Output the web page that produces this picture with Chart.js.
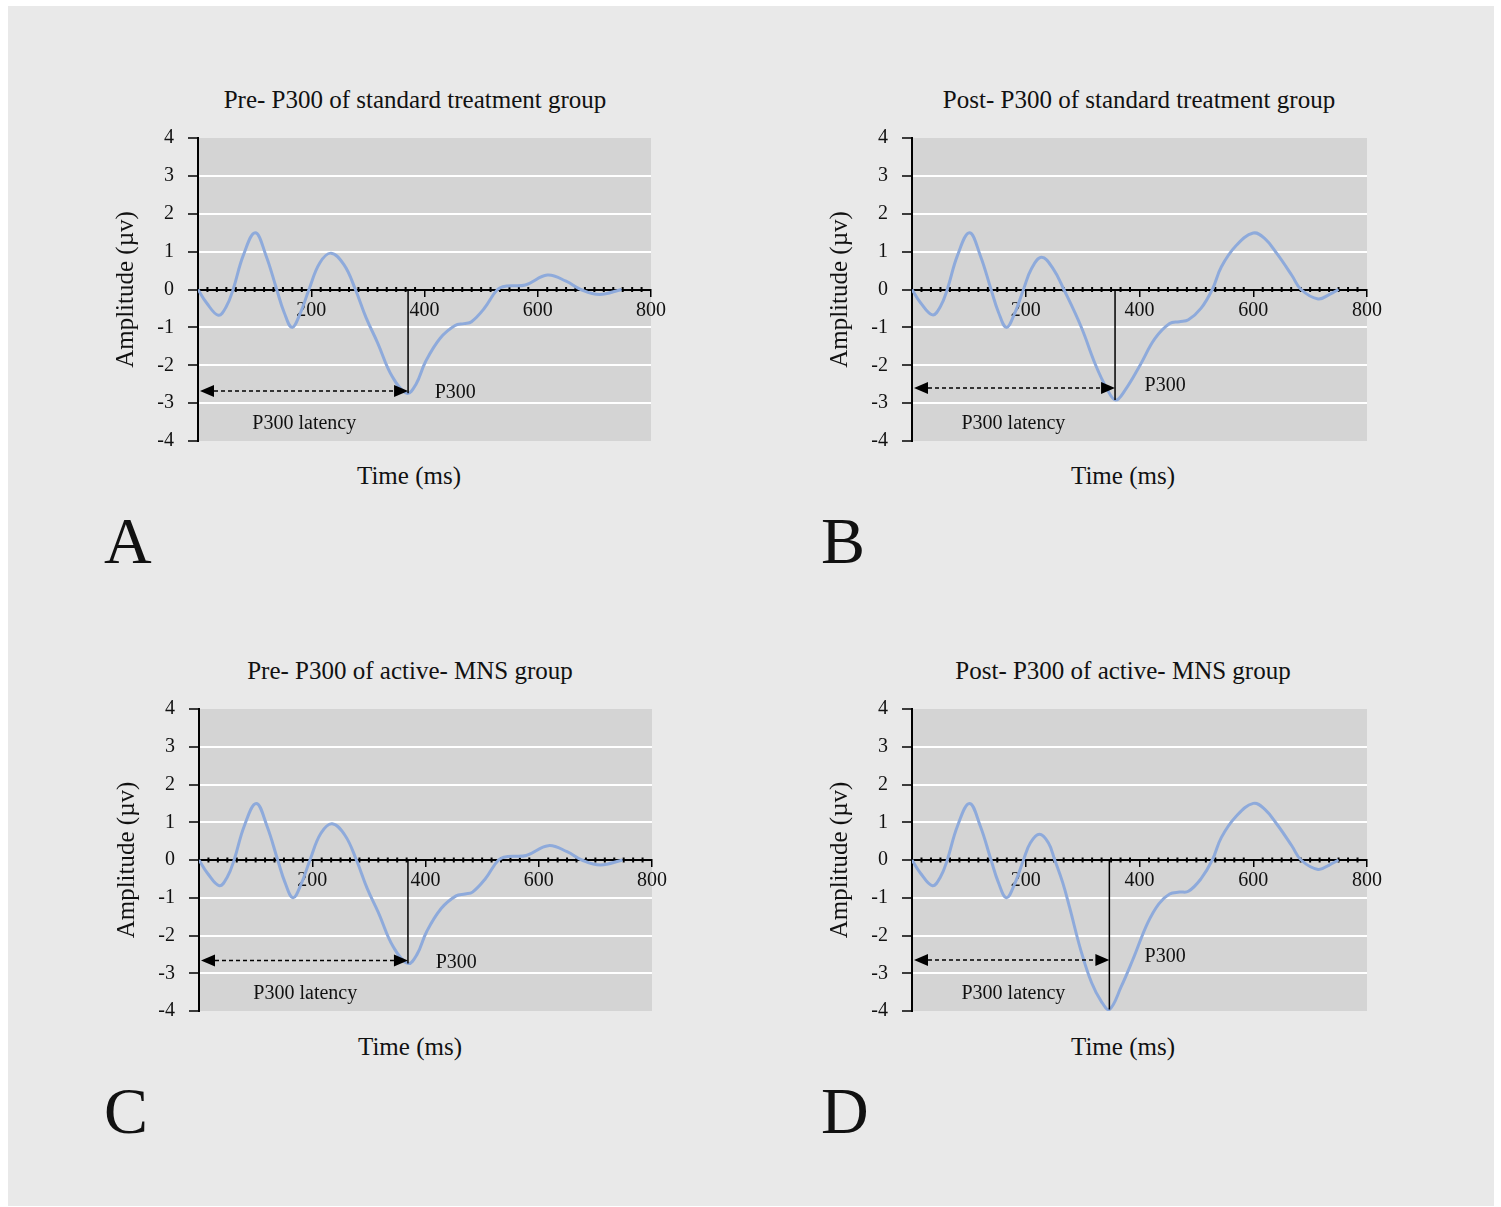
<!DOCTYPE html>
<html>
<head>
<meta charset="utf-8">
<script src="https://cdn.jsdelivr.net/npm/chart.js@4"></script>
<style>
  html, body { margin: 0; padding: 0; background: #fff; }
  body { width: 1501px; height: 1207px; position: relative; overflow: hidden;
         font-family: 'Liberation Serif', 'Times New Roman', serif; color: #111; }
  #frame { position: absolute; left: 8px; top: 6px; width: 1486px; height: 1200px; background: #e9e9e9; }
  canvas { position: absolute; }
  .title, .xtitle { position: absolute; width: 500px; text-align: center; font-size: 25px; line-height: 30px; white-space: nowrap; }
  .letter { position: absolute; font-size: 66px; line-height: 66px; }
</style>
</head>
<body>
<div id="frame"></div>

<div class="title" style="left:165px;top:85px">Pre- P300 of standard treatment group</div>
<div class="title" style="left:889px;top:85px">Post- P300 of standard treatment group</div>
<div class="title" style="left:160px;top:656px">Pre- P300 of active- MNS group</div>
<div class="title" style="left:873px;top:656px">Post- P300 of active- MNS group</div>

<div class="xtitle" style="left:159px;top:461px">Time (ms)</div>
<div class="xtitle" style="left:873px;top:461px">Time (ms)</div>
<div class="xtitle" style="left:160px;top:1032px">Time (ms)</div>
<div class="xtitle" style="left:873px;top:1032px">Time (ms)</div>

<div class="letter" style="left:104px;top:508px">A</div>
<div class="letter" style="left:821px;top:508px">B</div>
<div class="letter" style="left:104px;top:1078px">C</div>
<div class="letter" style="left:821px;top:1078px">D</div>

<canvas id="chartA" width="570" height="355" style="left:100px;top:112px"></canvas>
<canvas id="chartB" width="572" height="355" style="left:814px;top:112px"></canvas>
<canvas id="chartC" width="570" height="354" style="left:101px;top:683px"></canvas>
<canvas id="chartD" width="572" height="354" style="left:814px;top:683px"></canvas>

<script>
// A: pre, standard treatment group
const timeA = [0, 15, 36, 50, 62, 80, 101, 120, 139, 152, 166, 180, 196, 215, 235, 258, 278, 297, 317, 343, 369, 385, 402, 428, 454, 470, 483, 506, 529, 545, 578, 617, 650, 676, 709, 748];
const ampA  = [0, -0.35, -0.68, -0.45, 0, 0.9, 1.5, 0.9, 0, -0.6, -1.0, -0.65, 0, 0.7, 0.96, 0.65, 0, -0.75, -1.4, -2.3, -2.74, -2.5, -1.9, -1.28, -0.95, -0.9, -0.85, -0.49, 0, 0.09, 0.12, 0.38, 0.22, 0, -0.13, 0];

// B: post, standard treatment group
const timeB = [0, 15, 36, 50, 62, 80, 101, 120, 139, 152, 166, 180, 196, 210, 228, 248, 267, 297, 323, 342, 358, 375, 401, 427, 453, 470, 486, 508, 528, 544, 570, 600, 620, 642, 668, 684, 714, 735, 750];
const ampB  = [0, -0.35, -0.67, -0.45, 0, 0.9, 1.5, 0.9, 0, -0.6, -1.0, -0.65, 0, 0.55, 0.85, 0.55, 0, -0.97, -2.0, -2.6, -2.92, -2.65, -2.0, -1.3, -0.9, -0.85, -0.8, -0.5, 0, 0.6, 1.16, 1.49, 1.35, 0.94, 0.37, 0, -0.25, -0.12, 0];

// C: pre, active-MNS group
const timeC = [0, 15, 36, 50, 62, 80, 101, 120, 139, 152, 166, 180, 196, 215, 235, 258, 278, 297, 317, 343, 369, 385, 402, 428, 454, 470, 483, 506, 529, 545, 578, 617, 650, 676, 709, 748];
const ampC  = [0, -0.35, -0.68, -0.45, 0, 0.9, 1.5, 0.9, 0, -0.6, -1.0, -0.65, 0, 0.7, 0.96, 0.65, 0, -0.75, -1.4, -2.3, -2.74, -2.5, -1.9, -1.28, -0.95, -0.9, -0.85, -0.49, 0, 0.09, 0.12, 0.38, 0.22, 0, -0.13, 0];

// D: post, active-MNS group
const timeD = [0, 15, 36, 50, 62, 80, 101, 120, 139, 152, 166, 180, 196, 208, 224, 240, 251, 265, 277, 297, 316, 333, 347, 368, 388, 414, 434, 453, 470, 486, 508, 528, 544, 570, 600, 620, 642, 668, 684, 714, 735, 750];
const ampD  = [0, -0.35, -0.68, -0.45, 0, 0.9, 1.5, 0.9, 0, -0.6, -1.0, -0.65, 0, 0.45, 0.68, 0.45, 0, -0.6, -1.25, -2.4, -3.26, -3.75, -3.96, -3.35, -2.65, -1.68, -1.16, -0.9, -0.85, -0.83, -0.5, 0, 0.6, 1.16, 1.5, 1.35, 0.94, 0.37, 0, -0.25, -0.12, 0];

// P300 latency (ms) and peak amplitude, panels A..D
const latencyMs = [371, 357, 369, 347];
const peakAmp = [-2.74, -2.92, -2.74, -3.96];

const xTicks = [0, 200, 400, 600, 800];
const yTicks = [-4, -3, -2, -1, 0, 1, 2, 3, 4];

const FONT = "'Liberation Serif', 'Times New Roman', serif";
Chart.defaults.font.family = FONT;
Chart.defaults.color = '#111';

// where the arrow and the two labels sit (data coords)
const marks = [
  { arrowY: -2.68, p300At: [418, -2.72], latAt: [96, -3.54] },
  { arrowY: -2.6,  p300At: [409, -2.55], latAt: [87, -3.54] },
  { arrowY: -2.66, p300At: [418, -2.72], latAt: [96, -3.54] },
  { arrowY: -2.65, p300At: [409, -2.57], latAt: [87, -3.54] }
];

const plotBg = {
  id: 'plotBg',
  beforeDraw(chart) {
    const { ctx, chartArea: a } = chart;
    ctx.save();
    ctx.fillStyle = '#d4d4d4';
    ctx.fillRect(a.left, a.top, a.right - a.left, a.bottom - a.top);
    ctx.restore();
  }
};

// little cross ticks along the zero line
const minorTicks = {
  id: 'minorTicks',
  beforeDatasetsDraw(chart) {
    const { ctx, scales: { x, y } } = chart;
    const y0 = y.getPixelForValue(0);
    ctx.save();
    ctx.strokeStyle = '#000';
    ctx.lineWidth = 2;
    for (let i = 1; i < 48; i++) {
      if (i % 12 === 0) continue;
      const px = x.getPixelForValue(i * 200 / 12);
      ctx.beginPath();
      ctx.moveTo(px, y0 - 2.5);
      ctx.lineTo(px, y0 + 2.5);
      ctx.stroke();
    }
    ctx.restore();
  }
};

const refLines = {
  id: 'refLines',
  afterDatasetsDraw(chart, args, o) {
    const { ctx, scales: { x, y } } = chart;
    const px = x.getPixelForValue(o.latency);
    ctx.save();
    ctx.strokeStyle = '#000';
    ctx.fillStyle = '#000';
    ctx.lineWidth = 1.5;
    ctx.beginPath();
    ctx.moveTo(px, y.getPixelForValue(0));
    ctx.lineTo(px, y.getPixelForValue(o.peak));
    ctx.stroke();

    const ay = y.getPixelForValue(o.arrowY);
    const x0 = x.getPixelForValue(0) + 2;
    const head = 14, half = 6;
    ctx.setLineDash([4, 3]);
    ctx.beginPath();
    ctx.moveTo(x0 + head, ay);
    ctx.lineTo(px - head, ay);
    ctx.stroke();
    ctx.setLineDash([]);
    ctx.beginPath();
    ctx.moveTo(x0, ay); ctx.lineTo(x0 + head, ay - half); ctx.lineTo(x0 + head, ay + half);
    ctx.closePath(); ctx.fill();
    ctx.beginPath();
    ctx.moveTo(px, ay); ctx.lineTo(px - head, ay - half); ctx.lineTo(px - head, ay + half);
    ctx.closePath(); ctx.fill();

    ctx.fillStyle = '#111';
    ctx.font = '20px ' + FONT;
    ctx.textAlign = 'left';
    ctx.textBaseline = 'middle';
    ctx.fillText('P300', x.getPixelForValue(o.p300At[0]), y.getPixelForValue(o.p300At[1]));
    ctx.fillText('P300 latency', x.getPixelForValue(o.latAt[0]), y.getPixelForValue(o.latAt[1]));
    ctx.restore();
  }
};

function drawPanel(id, times, amps, k) {
  new Chart(document.getElementById(id), {
    type: 'line',
    data: {
      datasets: [{
        data: times.map((t, i) => ({ x: t, y: amps[i] })),
        borderColor: '#8eaadb',
        borderWidth: 3,
        pointRadius: 0,
        fill: false,
        tension: 0.4
      }]
    },
    options: {
      responsive: false,
      animation: false,
      events: [],
      layout: { padding: { top: 2, bottom: 3, left: 0, right: 19 } },
      plugins: {
        legend: { display: false },
        tooltip: { enabled: false },
        refLines: { latency: latencyMs[k], peak: peakAmp[k], ...marks[k] }
      },
      scales: {
        x: {
          type: 'linear',
          min: 0, max: 800,
          position: { y: 0 },
          afterBuildTicks: s => { s.ticks = xTicks.map(v => ({ value: v })); },
          ticks: {
            callback: v => (v === 0 ? '' : v),
            font: { size: 20 },
            color: '#111',
            padding: 3,
            maxRotation: 0
          },
          grid: { drawOnChartArea: false, drawTicks: true, tickLength: 6, color: '#000', lineWidth: 1.5 },
          border: { display: true, color: '#000', width: 2 }
        },
        y: {
          min: -4, max: 4,
          afterBuildTicks: s => { s.ticks = yTicks.map(v => ({ value: v })); },
          afterFit: s => { s.width = 98; },
          ticks: { font: { size: 20 }, color: '#111', padding: 14 },
          grid: {
            color: c => (Math.abs(c.tick.value) === 4 || c.tick.value === 0 ? 'rgba(0,0,0,0)' : '#ffffff'),
            lineWidth: 2,
            tickColor: '#000',
            tickWidth: 1.5,
            tickLength: 10
          },
          border: { display: true, color: '#000', width: 2 },
          title: { display: true, text: 'Amplitude (µv)', font: { size: 25 }, color: '#111', padding: { top: 11, bottom: 0 } }
        }
      }
    },
    plugins: [plotBg, minorTicks, refLines]
  });
}

drawPanel('chartA', timeA, ampA, 0);
drawPanel('chartB', timeB, ampB, 1);
drawPanel('chartC', timeC, ampC, 2);
drawPanel('chartD', timeD, ampD, 3);
</script>
</body>
</html>
